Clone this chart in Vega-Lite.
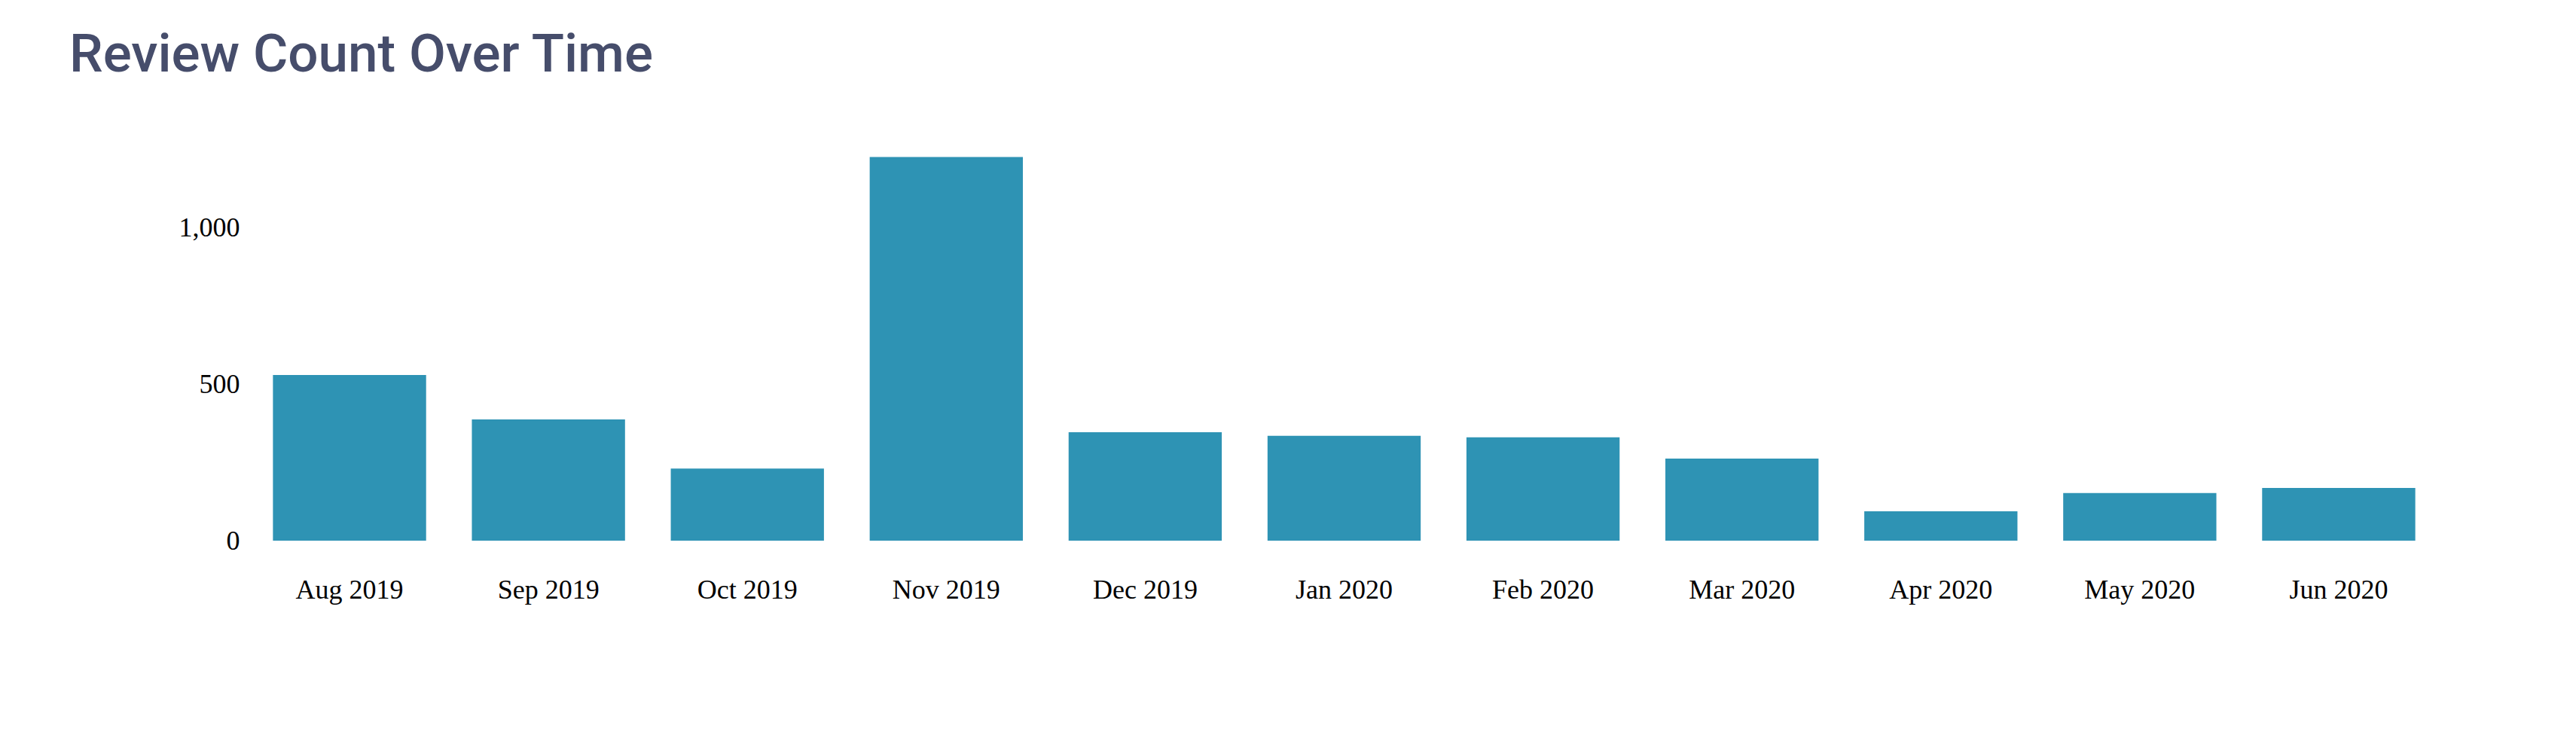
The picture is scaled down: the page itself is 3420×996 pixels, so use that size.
{
  "$schema": "https://vega.github.io/schema/vega-lite/v6.json",
  "autosize": "none",
  "width": 2905,
  "height": 520,
  "padding": {"left": 332, "top": 198, "right": 183, "bottom": 278},
  "background": "white",
  "title": {
    "text": "Review Count Over Time",
    "anchor": "start",
    "font": "Roboto",
    "fontWeight": 500,
    "fontSize": 71,
    "color": "#464D6B",
    "dx": -145,
    "dy": -84
  },
  "data": {
    "values": [
      {"month": "Aug 2019", "count": 529},
      {"month": "Sep 2019", "count": 387},
      {"month": "Oct 2019", "count": 230},
      {"month": "Nov 2019", "count": 1225},
      {"month": "Dec 2019", "count": 346},
      {"month": "Jan 2020", "count": 335},
      {"month": "Feb 2020", "count": 330},
      {"month": "Mar 2020", "count": 262},
      {"month": "Apr 2020", "count": 94},
      {"month": "May 2020", "count": 152},
      {"month": "Jun 2020", "count": 168}
    ]
  },
  "mark": {"type": "bar", "color": "#2E93B4"},
  "encoding": {
    "x": {
      "field": "month",
      "type": "ordinal",
      "sort": null,
      "scale": {"paddingInner": 0.23, "paddingOuter": 0.115},
      "axis": {
        "title": null,
        "labelAngle": 0,
        "labelFont": "Liberation Serif",
        "labelFontSize": 36,
        "labelColor": "#000000",
        "labelPadding": 48,
        "ticks": false,
        "domain": false
      }
    },
    "y": {
      "field": "count",
      "type": "quantitative",
      "scale": {"domain": [0, 1250], "nice": false},
      "axis": {
        "title": null,
        "values": [0, 500, 1000],
        "format": ",d",
        "labelFont": "Liberation Serif",
        "labelFontSize": 36,
        "labelColor": "#000000",
        "labelPadding": 14,
        "ticks": false,
        "domain": false,
        "grid": false
      }
    }
  },
  "config": {"view": {"stroke": null}}
}
